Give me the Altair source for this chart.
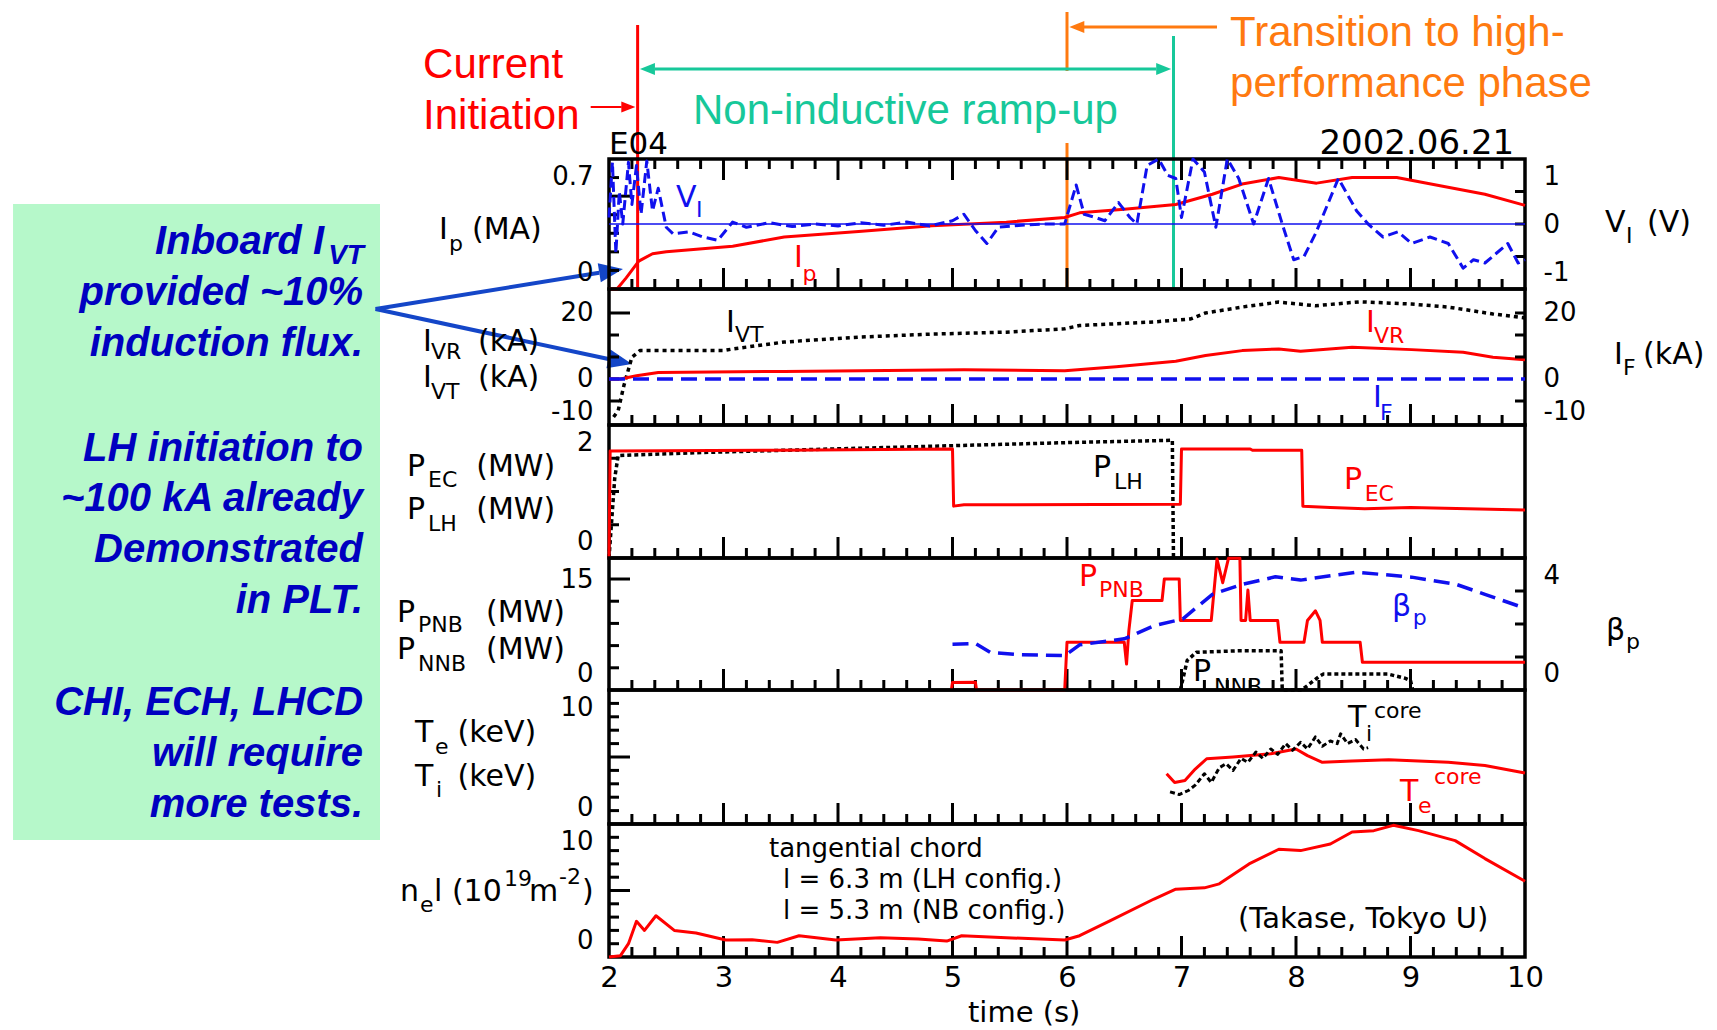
import altair as alt
import pandas as pd

# ---------------- measured series (time in s) ----------------
ip_t = [2.0, 2.07, 2.15, 2.26, 2.38, 2.5, 3.08, 3.53, 4.18, 4.82, 5.47, 5.98, 6.11, 6.5, 6.95, 7.27, 7.53, 7.85, 8.18, 8.49, 8.88, 9.27, 9.65, 10.0]
ip_v = [0.0, 0.0, 0.06, 0.15, 0.19, 0.2, 0.23, 0.28, 0.31, 0.34, 0.36, 0.385, 0.41, 0.43, 0.455, 0.51, 0.565, 0.6, 0.57, 0.6, 0.6, 0.555, 0.51, 0.45]

vl_t = [2.0, 2.03, 2.06, 2.09, 2.12, 2.17, 2.2, 2.24, 2.28, 2.33, 2.38, 2.43, 2.5, 2.56, 2.7, 2.82, 2.95, 3.08, 3.2, 3.4, 3.6, 3.8, 4.0, 4.2, 4.4, 4.6, 4.8, 5.0, 5.1, 5.2, 5.3, 5.4, 5.6, 5.8, 5.98, 6.08, 6.15, 6.25, 6.33, 6.45, 6.55, 6.61, 6.7, 6.8, 6.88, 6.95, 7.0, 7.1, 7.2, 7.3, 7.4, 7.5, 7.63, 7.76, 7.88, 7.98, 8.07, 8.17, 8.37, 8.53, 8.63, 8.76, 8.89, 9.01, 9.17, 9.33, 9.46, 9.55, 9.65, 9.75, 9.85, 9.94, 10.0]
vl_v = [0.1, 0.95, -0.45, 0.5, 0.0, 0.95, 0.3, 0.9, 0.15, 0.97, 0.2, 0.55, -0.05, -0.15, -0.12, -0.2, -0.25, 0.03, -0.05, 0.02, -0.04, 0.0, -0.03, 0.02, -0.02, 0.03, -0.03, 0.05, 0.15, -0.1, -0.3, -0.05, -0.02, 0.0, 0.0, 0.6, 0.15, 0.1, 0.05, 0.33, 0.1, 0.0, 0.9, 1.0, 0.75, 0.7, 0.1, 1.0, 0.8, -0.05, 1.0, 0.7, 0.0, 0.7, 0.0, -0.55, -0.5, -0.15, 0.7, 0.2, 0.0, -0.2, -0.12, -0.3, -0.2, -0.3, -0.68, -0.55, -0.6, -0.45, -0.3, -0.6, -0.55]

ivt_t = [2.04, 2.08, 2.13, 2.2, 2.27, 3.0, 3.08, 3.53, 4.18, 4.82, 5.47, 5.98, 6.11, 6.76, 7.08, 7.21, 7.53, 7.85, 8.17, 8.56, 9.01, 9.33, 9.72, 10.0]
ivt_v = [-11.5, -9.6, -2.0, 6.6, 8.6, 8.6, 9.1, 11.2, 12.7, 13.6, 14.2, 15.2, 16.2, 17.3, 18.2, 20.0, 21.8, 23.3, 22.2, 23.4, 22.7, 21.8, 19.7, 18.5]

ivr_t = [2.0, 2.1, 2.24, 2.43, 3.53, 5.1, 5.98, 6.43, 6.95, 7.21, 7.53, 7.85, 8.04, 8.49, 9.01, 9.46, 9.72, 10.0]
ivr_v = [0.0, 0.0, 1.0, 2.0, 2.3, 2.8, 2.5, 3.7, 5.4, 7.1, 8.6, 9.1, 8.4, 9.6, 8.9, 8.1, 6.6, 5.8]

if_t = [2.0, 10.0]
if_v = [0.0, 0.0]

pec_t = [2.0, 2.01, 3.5, 5.0, 5.01, 5.1, 6.99, 7.0, 7.6, 7.62, 8.05, 8.06, 8.3, 8.6, 9.0, 9.5, 10.0]
pec_v = [0.0, 1.61, 1.62, 1.64, 0.78, 0.8, 0.81, 1.64, 1.64, 1.62, 1.62, 0.78, 0.76, 0.74, 0.76, 0.74, 0.72]

plh_t = [2.0, 2.05, 2.08, 2.89, 4.18, 5.02, 6.11, 6.92, 6.93]
plh_v = [0.0, 1.2, 1.54, 1.59, 1.65, 1.69, 1.74, 1.77, 0.0]

pnb_t = [4.99, 5.0, 5.2, 5.21, 5.98, 6.0, 6.5, 6.52, 6.54, 6.57, 6.83, 6.85, 6.98, 6.99, 7.26, 7.31, 7.36, 7.41, 7.51, 7.52, 7.56, 7.58, 7.6, 7.84, 7.86, 8.07, 8.1, 8.17, 8.21, 8.23, 8.56, 8.58, 10.0]
pnb_v = [0.0, 1.0, 1.05, 0.0, 0.0, 6.45, 6.45, 3.5, 8.0, 12.1, 12.1, 15.0, 15.0, 9.4, 9.4, 17.7, 14.5, 17.8, 17.8, 9.4, 9.4, 13.5, 9.4, 9.4, 6.45, 6.45, 9.4, 10.7, 9.4, 6.45, 6.45, 3.75, 3.75]

nnb_t = [6.99, 7.05, 7.13, 7.5, 7.87, 7.88, 8.05, 8.2, 8.24, 8.8, 8.95, 9.0, 9.02]
nnb_v = [0.0, 4.0, 5.1, 5.3, 5.3, 0.0, 0.0, 1.8, 2.16, 2.16, 1.6, 1.26, 0.0]

bp_t = [5.0, 5.2, 5.33, 5.59, 5.98, 6.11, 6.5, 6.76, 7.01, 7.27, 7.53, 7.82, 8.04, 8.3, 8.53, 9.01, 9.4, 9.65, 9.94]
bp_v = [1.39, 1.41, 1.14, 1.07, 1.04, 1.37, 1.55, 1.95, 2.15, 2.9, 3.2, 3.43, 3.33, 3.46, 3.57, 3.42, 3.2, 2.9, 2.55]

te_t = [6.87, 6.94, 7.03, 7.12, 7.22, 7.45, 7.78, 8.0, 8.1, 8.23, 8.49, 8.81, 9.33, 9.65, 10.0]
te_v = [3.75, 3.1, 3.25, 4.1, 4.87, 5.0, 5.24, 5.6, 5.1, 4.6, 4.7, 4.8, 4.6, 4.37, 3.8]

ti_t = [6.9, 6.98, 7.06, 7.12, 7.2, 7.26, 7.33, 7.39, 7.45, 7.52, 7.58, 7.65, 7.71, 7.78, 7.84, 7.91, 7.97, 8.04, 8.1, 8.17, 8.23, 8.3, 8.36, 8.39, 8.45, 8.52, 8.59, 8.63]
ti_v = [2.4, 2.2, 2.5, 2.9, 3.75, 3.1, 4.2, 4.5, 4.0, 4.9, 4.6, 5.37, 4.9, 5.6, 5.2, 6.0, 5.5, 6.1, 5.6, 6.5, 5.8, 6.2, 6.0, 6.73, 6.0, 6.3, 5.6, 5.7]

ne_t = [2.0, 2.1, 2.17, 2.24, 2.31, 2.41, 2.57, 2.76, 3.02, 3.25, 3.47, 3.66, 3.98, 4.37, 4.7, 4.95, 5.08, 5.47, 5.98, 6.11, 6.37, 6.76, 6.95, 7.2, 7.33, 7.59, 7.85, 8.04, 8.3, 8.49, 8.68, 8.85, 9.07, 9.39, 9.65, 10.0]
ne_v = [0.0, 0.1, 1.0, 2.68, 2.0, 3.1, 2.0, 1.8, 1.28, 1.3, 1.1, 1.6, 1.28, 1.45, 1.35, 1.2, 1.6, 1.45, 1.28, 1.6, 2.7, 4.36, 5.1, 5.2, 5.5, 7.0, 8.1, 8.0, 8.5, 9.4, 9.5, 9.9, 9.5, 8.75, 7.4, 5.7]

# ---------------- ticks and tick labels ----------------
X_LABELS = [2, 3, 4, 5, 6, 7, 8, 9, 10]
X_MAJOR = [3, 4, 5, 6, 7, 8, 9]
X_MINOR = [round(2 + 0.2 * k, 1) for k in range(1, 40) if k % 5]

P1_L_LAB, P1_L_MIN, P1_L_MAJ = [0, 0.7], [0.1, 0.2, 0.3, 0.4, 0.6], [0.5]
P1_R_LAB, P1_R_MIN = [-1, 0, 1], [-0.5, 0.0, 0.5]
P2_LAB, P2_L_MIN, P2_L_MAJ = [-10, 0, 20], [13.33, 6.67, 0.0, -6.67], [20]
P2_R_MIN = [20, 13.33, 6.67, -6.67]
P3_LAB, P3_MIN = [0, 2], [0.5, 1.0, 1.5]
P4_L_LAB, P4_L_MIN, P4_L_MAJ = [0, 15], [3, 6, 9, 12], [15]
P4_R_LAB, P4_R_MIN = [0, 4], [1, 2, 3]
P56_LAB, P56_MIN, P56_MAJ = [0, 10], [1, 2, 3, 4, 6, 7, 8, 9], [5]

# ---------------- style ----------------
W = 916
TOP_H = 147
HEIGHTS = [130, 136, 133, 132, 134, 133]
RED = "#ff0000"
BLUE = "#1010ee"
BLACK = "#000000"
GREEN = "#17c89a"
ORANGE = "#ff7a10"
ARROW = "#1446c8"
BOXTXT = "#0000c0"
BOXFILL = "#b6f8ca"
CF = "DejaVu Sans"
SF = "Liberation Sans"
HEAD = "M0,0L-2,-0.8L-2,0.8Z"

# ---------------- in-plot labels (text, time, value, size, colour) ----------------
P1_TXT = [("V", 2.585, 0.442, 30, BLUE), ("I", 2.76, 0.388, 22, BLUE),
          ("I", 3.616, 0.118, 30, RED), ("p", 3.69, 0.043, 22, RED)]
P2_TXT = [("I", 3.022, 14.2, 30, BLACK), ("VT", 3.10, 11.2, 22, BLACK),
          ("I", 8.611, 14.2, 30, RED), ("VR", 8.681, 10.9, 22, RED),
          ("I", 8.673, -8.5, 30, BLUE), ("F", 8.734, -12.4, 22, BLUE)]
P3_TXT = [("P", 6.227, 1.218, 30, BLACK), ("LH", 6.41, 1.038, 22, BLACK),
          ("P", 8.419, 1.038, 30, RED), ("EC", 8.60, 0.857, 22, RED)]
P4_TXT = [("P", 6.105, 14.05, 30, RED), ("PNB", 6.28, 12.57, 22, RED),
          ("β", 8.838, 10.0, 30, BLUE), ("p", 9.02, 8.78, 22, BLUE),
          ("P", 7.10, 1.22, 30, BLACK), ("NNB", 7.284, -0.54, 22, BLACK)]
P5_TXT = [("T", 8.454, 7.24, 30, BLACK), ("i", 8.611, 6.19, 22, BLACK), ("core", 8.681, 7.91, 22, BLACK),
          ("T", 8.908, 1.72, 30, RED), ("e", 9.066, 0.82, 22, RED), ("core", 9.205, 2.99, 22, RED)]
P6_TXT = [("tangential chord", 3.397, 7.52, 26, BLACK),
          ("l = 6.3 m (LH config.)", 3.52, 5.19, 26, BLACK),
          ("l = 5.3 m (NB config.)", 3.52, 2.86, 26, BLACK),
          ("(Takase, Tokyo U)", 7.493, 2.18, 29, BLACK)]

# ---------------- slide annotations (time, offset below the top strip) ----------------
TITLE_TXT = [("I", 0.515, 227, 30), ("p", 0.603, 239, 22), ("(MA)", 0.803, 227, 30),
             ("I", 0.376, 339, 30), ("VR", 0.445, 347, 22),
             ("I", 0.376, 375, 30), ("VT", 0.445, 387, 22),
             ("P", 0.236, 464, 30), ("EC", 0.419, 475, 22),
             ("P", 0.236, 507, 30), ("LH", 0.419, 519, 22),
             ("P", 0.148, 610, 30), ("PNB", 0.332, 620, 22),
             ("P", 0.148, 647, 30), ("NNB", 0.332, 659, 22),
             ("T", 0.306, 730, 30), ("e", 0.480, 742, 22),
             ("T", 0.306, 774, 30), ("i", 0.489, 785, 22),
             ("n", 0.175, 889, 30), ("e", 0.349, 900, 22), ("l (10", 0.472, 889, 30),
             ("19", 1.083, 874, 22), ("m", 1.301, 889, 30), ("-2", 1.563, 872, 22), (")", 1.764, 889, 30),
             ("V", 10.699, 220, 30), ("I", 10.882, 231, 22), ("(V)", 11.066, 220, 30),
             ("I", 10.777, 352, 30), ("F", 10.856, 363, 22), ("(kA)", 11.031, 352, 30),
             ("β", 10.707, 628, 30), ("p", 10.882, 637, 22),
             ("E04", 2.0, 142, 31), ("2002.06.21", 8.205, 142, 34),
             ("time (s)", 5.135, 1010, 29)]

# stacked unit pairs: (two-line text, time, first baseline, line spacing)
UNIT_TXT = [("(kA)\n(kA)", 0.856, 339, 36), ("(MW)\n(MW)", 0.84, 464, 43),
            ("(MW)\n(MW)", 0.926, 610, 37), ("(keV)\n(keV)", 0.677, 730, 44)]

SLIDE_TXT = [("Current", 0.376, 66, RED), ("Initiation", 0.376, 117, RED),
             ("Non-inductive ramp-up", 2.734, 112, GREEN),
             ("Transition to high-", 7.424, 34, ORANGE), ("performance phase", 7.424, 85, ORANGE)]

BOX_TXT = [("Inboard I", -0.489, 242, 40), ("VT", -0.140, 252, 28),
           ("provided ~10%", -0.148, 293, 40), ("induction flux.", -0.148, 344, 40),
           ("LH initiation to", -0.148, 449, 40), ("~100 kA already", -0.148, 499, 40),
           ("Demonstrated", -0.148, 550, 40), ("in PLT.", -0.148, 601, 40),
           ("CHI, ECH, LHCD", -0.148, 703, 40), ("will require", -0.148, 754, 40),
           ("more tests.", -0.148, 805, 40)]

BOX = [(-3.205, 0.0, 192, 828)]

SEGS = [(2.25, 13, 2.25, 277, RED, 3), (6.0, 0, 6.0, 59, ORANGE, 3), (6.0, 131, 6.0, 276, ORANGE, 3),
        (6.93, 24, 6.93, 276, GREEN, 3), (2.40, 57, 6.78, 57, GREEN, 3), (6.13, 15, 7.31, 15, ORANGE, 3),
        (1.84, 95, 2.11, 95, RED, 2), (-0.039, 297, 1.915, 260.8, ARROW, 4), (-0.039, 297, 1.995, 347, ARROW, 4)]

HEADS = [(2.27, 57, 180, 225, GREEN), (6.91, 57, 0, 225, GREEN), (6.02, 15, 180, 225, ORANGE),
         (2.23, 95, 0, 196, RED), (2.122, 257, 350.8, 576, ARROW), (2.20, 352, 12.1, 576, ARROW)]

# ---------------- helpers ----------------
XS = alt.Scale(domain=[2, 10], nice=False, zero=False)
SY = alt.Scale(domain=[0, TOP_H], reverse=True, nice=False, zero=False)
LABEL_EXPR = "replace(format(datum.value, '~g'), '\u2212', '-')"


def df(t, v):
    return pd.DataFrame({"t": t, "v": v, "i": list(range(len(t)))})


def xenc(axis=None):
    return alt.X("t:Q", scale=XS, axis=axis)


def yenc(domain, labels, orient, pad):
    return alt.Y("v:Q", scale=alt.Scale(domain=domain, nice=False, zero=False),
                 axis=alt.Axis(orient=orient, values=labels, ticks=False, tickSize=0, domain=False,
                               grid=False, labelFont=CF, labelFontSize=26, labelColor=BLACK,
                               labelPadding=pad, labelFlush=True, labelFlushOffset=-4,
                               title=None, labelExpr=LABEL_EXPR))


def line(t, v, x, y, color, width=3, dash=None):
    kw = dict(color=color, strokeWidth=width, strokeJoin="round")
    if dash:
        kw["strokeDash"] = dash
    return alt.Chart(df(t, v)).mark_line(**kw).encode(x=x, y=y, order="i:Q")


def yticks(vals, y, side, length):
    d = pd.DataFrame({"v": vals})
    x0, x1 = (0, length) if side == "left" else (W, W - length)
    return alt.Chart(d).mark_rule(color=BLACK, strokeWidth=3).encode(
        y=y, x=alt.value(x0), x2=alt.value(x1))


def xticks(x, h, top=False):
    out = []
    for vals, length in ((X_MINOR, 10), (X_MAJOR, 21)):
        d = pd.DataFrame({"t": vals})
        y0, y1 = (0, length) if top else (h, h - length)
        out.append(alt.Chart(d).mark_rule(color=BLACK, strokeWidth=3).encode(
            x=x, y=alt.value(y0), y2=alt.value(y1)))
    return out


def labels(rows, x, y, clip=False):
    d = pd.DataFrame(rows, columns=["s", "t", "v", "fs", "c"])
    return alt.Chart(d).mark_text(font=CF, align="left", baseline="alphabetic", clip=clip).encode(
        x=x, y=y, text="s:N", size=alt.Size("fs:Q", scale=None), color=alt.Color("c:N", scale=None))


# ---------------- top strip with slide annotations ----------------
xt = xenc()
yt = alt.Y("v:Q", scale=SY, axis=None)

box_df = pd.DataFrame(BOX, columns=["t1", "t2", "v1", "v2"])
box = alt.Chart(box_df).mark_rect(color=BOXFILL).encode(
    x=alt.X("t1:Q", scale=XS, axis=None), x2="t2:Q",
    y=alt.Y("v1:Q", scale=SY, axis=None), y2="v2:Q")

seg_df = pd.DataFrame(SEGS, columns=["t1", "v1", "t2", "v2", "c", "w"])
segs = alt.Chart(seg_df).mark_rule(strokeCap="butt").encode(
    x=alt.X("t1:Q", scale=XS, axis=None), x2="t2:Q",
    y=alt.Y("v1:Q", scale=SY, axis=None), y2="v2:Q",
    color=alt.Color("c:N", scale=None), strokeWidth=alt.StrokeWidth("w:Q", scale=None))

head_df = pd.DataFrame(HEADS, columns=["t", "v", "a", "sz", "c"])
heads = alt.Chart(head_df).mark_point(shape=HEAD, filled=True, opacity=1, strokeWidth=0).encode(
    x=xt, y=yt, angle=alt.Angle("a:Q", scale=None), size=alt.Size("sz:Q", scale=None),
    color=alt.Color("c:N", scale=None))

slide_df = pd.DataFrame(SLIDE_TXT, columns=["s", "t", "v", "c"])
slide = alt.Chart(slide_df).mark_text(font=SF, fontSize=42, align="left", baseline="alphabetic").encode(
    x=xt, y=yt, text="s:N", color=alt.Color("c:N", scale=None))

title_df = pd.DataFrame(TITLE_TXT, columns=["s", "t", "v", "fs"])
titles = alt.Chart(title_df).mark_text(font=CF, align="left", baseline="alphabetic", color=BLACK).encode(
    x=xt, y=yt, text="s:N", size=alt.Size("fs:Q", scale=None))

unit_layers = []
for s, t, v, lh in UNIT_TXT:
    d = pd.DataFrame({"s": [s], "t": [t], "v": [v]})
    unit_layers.append(alt.Chart(d).mark_text(font=CF, fontSize=30, align="left", baseline="alphabetic",
                                              color=BLACK, lineBreak="\n", lineHeight=lh).encode(
        x=xt, y=yt, text="s:N"))

boxt_df = pd.DataFrame(BOX_TXT, columns=["s", "t", "v", "fs"])
boxt = alt.Chart(boxt_df).mark_text(font=SF, fontWeight="bold", fontStyle="italic", align="right",
                                    baseline="alphabetic", color=BOXTXT).encode(
    x=xt, y=yt, text="s:N", size=alt.Size("fs:Q", scale=None))

top = alt.layer(box, segs, heads, slide, titles, *unit_layers, boxt).properties(
    width=W, height=TOP_H, view=alt.ViewBackground(stroke="transparent"))

# ---------------- panel 1: Ip / Vl ----------------
x = xenc()
h = HEIGHTS[0]
yl = yenc([0, 0.7], P1_L_LAB, "left", 16)
yr = yenc([-1, 1], P1_R_LAB, "right", 18)
p1 = alt.layer(
    alt.layer(*xticks(x, h), *xticks(x, h, top=True),
              yticks(P1_L_MIN, yl, "left", 10), yticks(P1_L_MAJ, yl, "left", 21),
              line(ip_t, ip_v, x, yl, RED, 3), labels(P1_TXT, x, yl)),
    alt.layer(yticks(P1_R_MIN, yr, "right", 10),
              line(if_t, if_v, x, yr, BLUE, 1.5),
              line(vl_t, vl_v, x, yr, BLUE, 3, [10, 5])),
).resolve_scale(y="independent").properties(width=W, height=h)

# ---------------- panel 2: IVR, IVT / IF ----------------
h = HEIGHTS[1]
yl = yenc([-13.94, 27.27], P2_LAB, "left", 16)
yr = yenc([-13.94, 27.27], P2_LAB, "right", 18)
p2 = alt.layer(
    alt.layer(*xticks(x, h),
              yticks(P2_L_MIN, yl, "left", 10), yticks(P2_L_MAJ, yl, "left", 21),
              line(ivt_t, ivt_v, x, yl, BLACK, 3.5, [4, 4]),
              line(ivr_t, ivr_v, x, yl, RED, 3),
              line(if_t, if_v, x, yl, BLUE, 3.5, [16, 8]),
              labels(P2_TXT, x, yl)),
    alt.layer(yticks(P2_R_MIN, yr, "right", 10)),
).resolve_scale(y="independent").properties(width=W, height=h)

# ---------------- panel 3: PEC, PLH ----------------
h = HEIGHTS[2]
yl = yenc([0, 2], P3_LAB, "left", 16)
p3 = alt.layer(
    *xticks(x, h), yticks(P3_MIN, yl, "left", 10),
    line(plh_t, plh_v, x, yl, BLACK, 3.5, [4, 3]),
    line(pec_t, pec_v, x, yl, RED, 3),
    labels(P3_TXT, x, yl),
).properties(width=W, height=h)

# ---------------- panel 4: PPNB, PNNB / beta_p ----------------
h = HEIGHTS[3]
yl = yenc([0, 17.84], P4_L_LAB, "left", 16)
yr = yenc([0, 4], P4_R_LAB, "right", 18)
p4 = alt.layer(
    alt.layer(*xticks(x, h),
              yticks(P4_L_MIN, yl, "left", 10), yticks(P4_L_MAJ, yl, "left", 21),
              line(nnb_t, nnb_v, x, yl, BLACK, 3.5, [4, 3]),
              line(pnb_t, pnb_v, x, yl, RED, 3),
              labels(P4_TXT, x, yl, clip=True)),
    alt.layer(yticks(P4_R_MIN, yr, "right", 10),
              line(bp_t, bp_v, x, yr, BLUE, 3.5, [16, 8])),
).resolve_scale(y="independent").properties(width=W, height=h)

# ---------------- panel 5: Te, Ti ----------------
h = HEIGHTS[4]
yl = yenc([0, 10], P56_LAB, "left", 16)
p5 = alt.layer(
    *xticks(x, h), yticks(P56_MIN, yl, "left", 10), yticks(P56_MAJ, yl, "left", 21),
    line(te_t, te_v, x, yl, RED, 3),
    line(ti_t, ti_v, x, yl, BLACK, 3, [5, 3]),
    labels(P5_TXT, x, yl),
).properties(width=W, height=h)

# ---------------- panel 6: ne l ----------------
h = HEIGHTS[5]
x6 = xenc(alt.Axis(values=X_LABELS, ticks=False, tickSize=0, domain=False, grid=False,
                   labelFont=CF, labelFontSize=29, labelColor=BLACK, labelPadding=6,
                   labelFlush=False, title=None))
yl = yenc([0, 10], P56_LAB, "left", 16)
p6 = alt.layer(
    *xticks(x6, h), yticks(P56_MIN, yl, "left", 10), yticks(P56_MAJ, yl, "left", 21),
    line(ne_t, ne_v, x6, yl, RED, 3),
    labels(P6_TXT, x6, yl),
).properties(width=W, height=h)

chart = alt.vconcat(top, p1, p2, p3, p4, p5, p6, spacing=0, bounds="flush").properties(
    padding={"left": 3, "top": 0, "right": 0, "bottom": 0}, background="white"
).configure(font=CF).configure_view(stroke=BLACK, strokeWidth=3.5)

chart.save("out.html", embed_options={"renderer": "svg", "actions": False})
